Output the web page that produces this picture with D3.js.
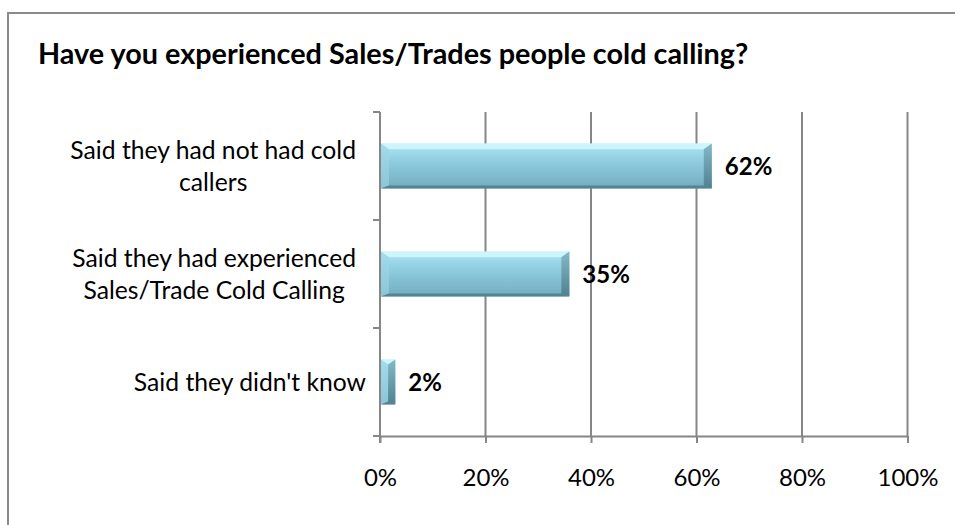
<!DOCTYPE html>
<html>
<head>
<meta charset="utf-8">
<script src="https://cdn.jsdelivr.net/npm/d3@7"></script>
<style>
  html, body { margin: 0; padding: 0; background: #fff; }
  svg { display: block; }
</style>
</head>
<body>
<svg id="chart" width="955" height="525"></svg>
<script>
const title = "Have you experienced Sales/Trades people cold calling?";
const categories = [
  "Said they had not had cold\ncallers",
  "Said they had experienced\nSales/Trade Cold Calling",
  "Said they didn't know"
];
const values = [62.9, 35.9, 2.9];
const valueLabels = ["62%", "35%", "2%"];
const xTicks = [0, 20, 40, 60, 80, 100];

const FONT = "Lato, 'Open Sans', 'DejaVu Sans', sans-serif";
const svg = d3.select("#chart");

// frame border (only top/left visible in view)
svg.append("rect")
  .attr("x", 8).attr("y", 13).attr("width", 1200).attr("height", 1200)
  .attr("fill", "#fff").attr("stroke", "#8a8a8a").attr("stroke-width", 2);

const plot = { left: 380, right: 907.5, top: 112, bottom: 436 };

const x = d3.scaleLinear().domain([0, 100]).range([plot.left, plot.right]);
const y = d3.scaleBand().domain(categories).range([plot.top, plot.bottom])
  .paddingInner(0.585).paddingOuter(0.2925);
const step = y.step();
const bw = y.bandwidth();

// title
svg.append("text")
  .attr("x", 38).attr("y", 64)
  .attr("font-family", FONT).attr("font-weight", "bold")
  .attr("font-size", 28.8).attr("fill", "#000")
  .text(title);

const gridColor = "#868686";

// gridlines
svg.append("g").selectAll("line").data(xTicks.filter(d => d > 0)).join("line")
  .attr("x1", d => x(d)).attr("x2", d => x(d))
  .attr("y1", plot.top).attr("y2", plot.bottom)
  .attr("stroke", gridColor).attr("stroke-width", 2);

// gradient defs
const defs = svg.append("defs");
const grad = defs.append("linearGradient").attr("id", "barGrad")
  .attr("x1", 0).attr("y1", 0).attr("x2", 0).attr("y2", 1);
[[0, "#b0e8f6"], [0.3, "#95d2e4"], [0.65, "#83bfd2"], [1, "#72abbe"]]
  .forEach(([o, c]) => grad.append("stop").attr("offset", o).attr("stop-color", c));
const gradR = defs.append("linearGradient").attr("id", "bevR")
  .attr("x1", 0).attr("y1", 0).attr("x2", 0).attr("y2", 1);
[[0, "#7fb4c4"], [1, "#4c7c8a"]]
  .forEach(([o, c]) => gradR.append("stop").attr("offset", o).attr("stop-color", c));

// bars with bevel
const bars = svg.append("g").selectAll("g").data(categories).join("g");
bars.each(function(c, i) {
  const g = d3.select(this);
  const x0 = x(0) + 1, x1 = x(values[i]);
  const y0 = y(c), y1 = y(c) + bw;
  const b = Math.min(8, (x1 - x0) / 2);
  g.append("rect").attr("x", x0).attr("y", y0)
    .attr("width", x1 - x0).attr("height", bw).attr("fill", "url(#barGrad)");
  const poly = (pts, fill, op) => g.append("polygon")
    .attr("points", pts.map(p => p.join(",")).join(" "))
    .attr("fill", fill).attr("opacity", op);
  // top
  poly([[x0, y0], [x1, y0], [x1 - b, y0 + b * 0.7], [x0 + b, y0 + b * 0.7]], "#cff6fd", 0.9);
  // left
  poly([[x0, y0], [x0 + b, y0 + b * 0.7], [x0 + b, y1 - 3], [x0, y1]], "#9fd6e6", 0.6);
  // right
  poly([[x1, y0], [x1, y1], [x1 - b, y1 - 3], [x1 - b, y0 + b * 0.7]], "url(#bevR)", 0.9);
  // bottom
  poly([[x0, y1], [x0 + b, y1 - 3], [x1 - b, y1 - 3], [x1, y1]], "#4f7f8d", 0.9);
});

// value labels
svg.append("g").selectAll("text").data(categories).join("text")
  .attr("x", (c, i) => x(values[i]) + 13)
  .attr("y", c => y(c) + bw / 2 + 8.5)
  .attr("font-family", FONT).attr("font-weight", "bold")
  .attr("font-size", 24).attr("fill", "#000")
  .text((c, i) => valueLabels[i]);

// y axis line + ticks at band boundaries
const yAxisG = svg.append("g");
yAxisG.append("line")
  .attr("x1", plot.left).attr("x2", plot.left)
  .attr("y1", plot.top).attr("y2", plot.bottom + 7)
  .attr("stroke", gridColor).attr("stroke-width", 2);
const bounds = categories.map(c => y(c) - (step - bw) / 2).concat([plot.bottom]);
yAxisG.selectAll("line.tk").data(bounds).join("line").attr("class", "tk")
  .attr("x1", plot.left - 7).attr("x2", plot.left)
  .attr("y1", d => d).attr("y2", d => d)
  .attr("stroke", gridColor).attr("stroke-width", 2);

// x axis
const xAxis = d3.axisBottom(x).tickValues(xTicks).tickSize(7).tickSizeOuter(0)
  .tickFormat(d => d + "%");
const xg = svg.append("g").attr("transform", `translate(0,${plot.bottom})`).call(xAxis);
xg.select(".domain").attr("stroke", gridColor).attr("stroke-width", 2);
xg.selectAll(".tick line").attr("stroke", gridColor).attr("stroke-width", 2);
xg.selectAll(".tick text")
  .attr("y", 50).attr("dy", 0)
  .attr("font-family", FONT).attr("font-size", 24).attr("fill", "#000");

// category labels (lines centred within a right-aligned block)
const labelRight = 366;
const lineH = 32;
const catG = svg.append("g").attr("font-family", FONT).attr("font-size", 24.7).attr("fill", "#000");
categories.forEach(c => {
  const lines = c.split("\n");
  const texts = lines.map((ln, j) => catG.append("text")
    .attr("y", y(c) + bw / 2 + (j - (lines.length - 1) / 2) * lineH + 9)
    .text(ln));
  const widths = texts.map(t => t.node().getComputedTextLength());
  const maxW = d3.max(widths);
  const right = lines.length > 1 ? labelRight - 10 : labelRight;
  texts.forEach(t => t.attr("x", right - maxW / 2).attr("text-anchor", "middle"));
});
</script>
</body>
</html>
